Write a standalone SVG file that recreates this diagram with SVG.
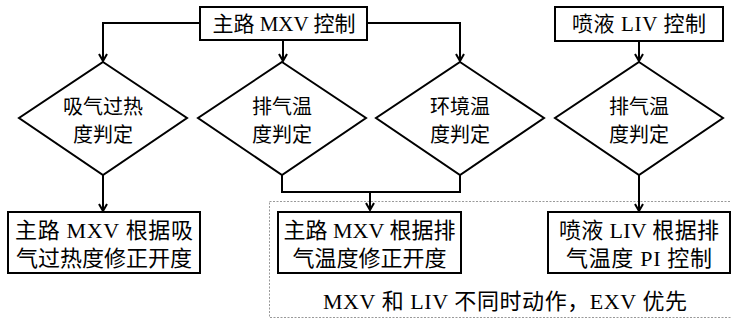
<svg xmlns="http://www.w3.org/2000/svg" width="731" height="328" viewBox="0 0 731 328">
<style>
text{font-family:"Liberation Serif","Noto Sans CJK SC",serif;fill:#000;text-anchor:middle;dominant-baseline:central}
.box{fill:#fff;stroke:#000;stroke-width:2}
.dia{fill:#fff;stroke:#000;stroke-width:2}
.con{fill:none;stroke:#000;stroke-width:2}
.t21{font-size:21px}.t20{font-size:20px}.t22{font-size:22px}
</style>
<defs>
<marker id="arr" markerUnits="userSpaceOnUse" viewBox="0 0 10 10" refX="9" refY="5" markerWidth="10" markerHeight="10" orient="auto">
<path d="M2,1 L9,5 L2,9" fill="none" stroke="#000" stroke-width="2"/>
</marker>
</defs>
<rect x="269.5" y="201.5" width="470" height="116" fill="none" stroke="#999" stroke-width="1" stroke-dasharray="2,1.5"/>
<g id="connectors">
<path class="con" d="M200,23 H103 V61" marker-end="url(#arr)"/>
<path class="con" d="M283,40 V61" marker-end="url(#arr)"/>
<path class="con" d="M367,23 H460 V61" marker-end="url(#arr)"/>
<path class="con" d="M639,41 V61" marker-end="url(#arr)"/>
<path class="con" d="M103,175 V211" marker-end="url(#arr)"/>
<path class="con" d="M282,175 V192 H460 V175"/>
<path class="con" d="M370,192 V210" marker-end="url(#arr)"/>
<path class="con" d="M639,175 V211" marker-end="url(#arr)"/>
</g>
<g id="mxv">
<rect class="box" x="200" y="7" width="167" height="33"/>
<text class="t21" x="284" y="23.5" textLength="143" lengthAdjust="spacing">主路 MXV 控制</text>
</g>
<g id="liv">
<rect class="box" x="555" y="7" width="168" height="34"/>
<text class="t21" x="639" y="24" textLength="134" lengthAdjust="spacing">喷液 LIV 控制</text>
</g>
<g id="d1">
<path class="dia" d="M103,62 L187,118 L103,175 L19,118 Z"/>
<text class="t20" x="103" y="107">吸气过热</text>
<text class="t20" x="103" y="135">度判定</text>
</g>
<g id="d2">
<path class="dia" d="M282,62 L366,118 L282,175 L198,118 Z"/>
<text class="t20" x="282" y="107">排气温</text>
<text class="t20" x="282" y="135">度判定</text>
</g>
<g id="d3">
<path class="dia" d="M460,62 L544,118 L460,175 L376,118 Z"/>
<text class="t20" x="460" y="107">环境温</text>
<text class="t20" x="460" y="135">度判定</text>
</g>
<g id="d4">
<path class="dia" d="M639,62 L723,118 L639,175 L555,118 Z"/>
<text class="t20" x="639" y="107">排气温</text>
<text class="t20" x="639" y="135">度判定</text>
</g>
<g id="b1">
<rect class="box" x="8" y="212" width="192" height="61"/>
<text class="t22" x="104" y="230" textLength="178" lengthAdjust="spacing">主路 MXV 根据吸</text>
<text class="t22" x="104" y="258">气过热度修正开度</text>
</g>
<g id="b2">
<rect class="box" x="278" y="212" width="183" height="61"/>
<text class="t22" x="369.5" y="230" textLength="172" lengthAdjust="spacing">主路 MXV 根据排</text>
<text class="t22" x="369.5" y="258">气温度修正开度</text>
</g>
<g id="b3">
<rect class="box" x="548" y="212" width="182" height="61"/>
<text class="t22" x="639" y="230" textLength="160" lengthAdjust="spacing">喷液 LIV 根据排</text>
<text class="t22" x="639" y="258" textLength="146" lengthAdjust="spacing">气温度 PI 控制</text>
</g>
<text class="t22" x="505" y="301" textLength="364" lengthAdjust="spacing">MXV 和 LIV 不同时动作，EXV 优先</text>
</svg>
